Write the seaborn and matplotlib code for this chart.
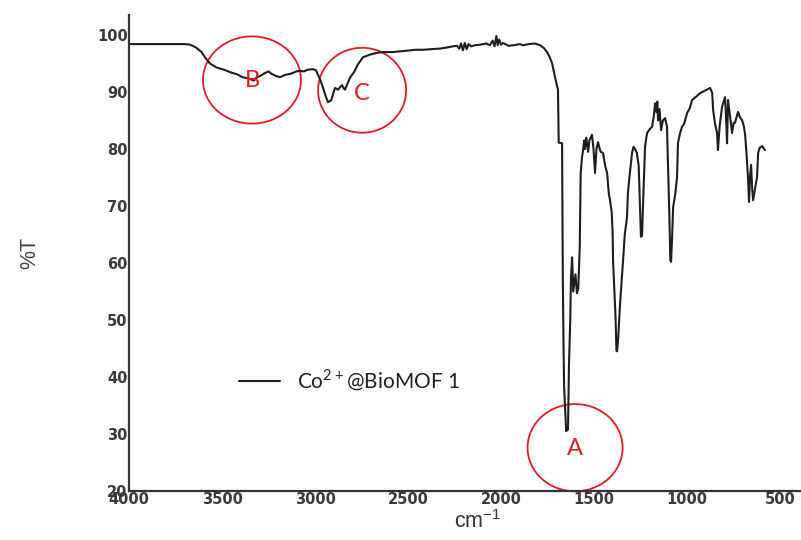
import matplotlib
matplotlib.use("Agg")
import matplotlib.pyplot as plt
from matplotlib.patches import Ellipse
import seaborn as sns

# FTIR spectrum of Co2+@BioMOF 1
wavenumber = [
    4000, 3700, 3672, 3640, 3610, 3590, 3565, 3530, 3490, 3450, 3420, 3390,
    3376, 3350, 3330, 3310, 3290, 3270, 3250, 3235, 3210, 3188, 3160, 3130,
    3100, 3081, 3060, 3040, 3011, 2995, 2984, 2970, 2962, 2950, 2940, 2930,
    2915, 2909, 2900, 2892, 2876, 2866, 2855, 2845, 2839, 2825, 2812, 2790,
    2770, 2742, 2700, 2660, 2634, 2580, 2520, 2460, 2419, 2380, 2330, 2290,
    2260, 2237, 2225, 2215, 2205, 2195, 2185, 2175, 2160, 2140, 2110, 2080,
    2060, 2045, 2035, 2025, 2018, 2010, 2000, 1990, 1960, 1930, 1900, 1882,
    1850, 1820, 1790, 1770, 1753, 1740, 1726, 1710, 1694, 1690, 1672, 1668,
    1664, 1661, 1650, 1640, 1635, 1628, 1624, 1618, 1612, 1600, 1592, 1585,
    1577, 1572, 1565, 1559, 1553, 1549, 1542, 1532, 1525, 1511, 1503, 1495,
    1487, 1479, 1465, 1452, 1440, 1430, 1420, 1414, 1405, 1400, 1398, 1390,
    1384, 1380, 1376, 1370, 1360, 1345, 1335, 1323, 1318, 1310, 1296, 1288,
    1280, 1270, 1260, 1253, 1248, 1242, 1235, 1226, 1215, 1200, 1188, 1178,
    1172, 1165, 1160, 1156, 1148, 1140, 1130, 1118, 1108, 1102, 1095, 1090,
    1086, 1080, 1075, 1064, 1054, 1049, 1040, 1027, 1015, 1000, 985, 973,
    950, 930, 900, 876, 865, 860, 850, 839, 834, 825, 812, 796,
    790, 785, 780, 770, 758, 750, 742, 735, 726, 715, 704, 695,
    688, 680, 672, 667, 662, 656, 650, 645, 635, 624, 618, 610,
    597, 590, 581,
]
transmittance = [
    98.4, 98.4, 98.3, 97.8, 97.0, 96.0, 95.0, 94.3, 93.9, 93.4, 93.1, 92.6,
    92.5, 92.3, 92.0, 92.6, 92.9, 93.3, 93.6, 93.2, 92.8, 92.6, 93.0, 93.2,
    93.6, 93.7, 93.6, 93.9, 94.0, 93.8, 93.0, 92.0, 91.2, 90.0, 89.0, 88.2,
    88.5, 88.9, 90.0, 90.7, 90.4, 90.8, 91.2, 90.6, 90.4, 91.5, 92.5, 93.5,
    94.8, 96.1, 96.6, 96.9, 97.0, 97.0, 97.2, 97.4, 97.4, 97.5, 97.6, 97.8,
    98.0, 98.1, 97.6, 98.5, 97.3, 98.6, 97.5, 98.4, 98.0, 98.2, 98.3, 98.5,
    98.2, 99.0, 98.0, 99.8, 98.2, 99.2, 98.3, 98.6, 98.1, 98.2, 98.4, 98.2,
    98.4, 98.5, 98.2, 97.7, 97.0, 96.2, 95.1, 92.6, 90.4, 81.1, 81.0, 57.5,
    45.0, 38.2, 30.5, 30.8, 42.0, 50.0, 57.5, 61.0, 55.0, 58.0, 54.7, 55.5,
    62.8, 75.8, 78.5, 79.8, 81.5, 80.0, 82.0, 79.5, 81.5, 82.5, 80.0, 75.8,
    80.0, 81.2, 79.5, 79.3, 77.0, 75.8, 72.0, 71.0, 68.8, 65.0, 60.5, 54.7,
    50.0, 44.7, 44.5, 47.0, 53.0, 60.0, 65.0, 68.0, 72.3, 75.0, 79.3, 80.4,
    80.0, 79.3, 77.0, 69.8, 64.6, 64.8, 72.0, 80.4, 82.8, 83.5, 83.9, 86.0,
    88.0, 86.5, 88.3, 85.0, 87.0, 83.3, 85.0, 85.4, 83.9, 76.8, 68.0, 60.5,
    60.2, 65.0, 69.8, 72.0, 75.0, 81.0, 82.5, 83.9, 84.5, 86.3, 87.2, 88.6,
    89.2, 89.8, 90.3, 90.7, 89.8, 86.8, 84.5, 82.8, 79.8, 84.0, 87.4, 89.1,
    85.0, 81.0, 88.6, 86.0, 82.8, 84.6, 84.6, 85.5, 86.5, 85.5, 85.0, 84.0,
    82.5, 79.0, 74.6, 70.7, 75.0, 77.2, 73.0, 71.0, 73.0, 75.0, 79.3, 80.2,
    80.5, 80.2, 79.8,
]

x_ticks = [4000, 3500, 3000, 2500, 2000, 1500, 1000, 500]
y_ticks = [20, 30, 40, 50, 60, 70, 80, 90, 100]

# marked regions (red circles)
region_labels = ["A", "B", "C"]
region_x = [1602, 3339, 2747]
region_y = [27.6, 92.1, 90.3]
region_w = [511, 527, 473]
region_h = [15.3, 15.3, 14.9]
label_y = [27.5, 92.0, 89.8]

sns.set_style("white")
plt.rcParams["font.family"] = ["Liberation Sans", "DejaVu Sans"]
plt.rcParams["mathtext.fontset"] = "custom"
plt.rcParams["mathtext.rm"] = "Lato"

fig = plt.figure(figsize=(8.01, 5.40), dpi=100)
ax = fig.add_axes([129 / 801, 49 / 540, 671 / 801, 476 / 540])

sns.lineplot(x=wavenumber, y=transmittance, ax=ax, sort=False, estimator=None,
             color="#1e1e1e", linewidth=1.5, label="Co$^{2+}$@BioMOF 1")

ax.set_xlim(4000, 393)
ax.set_ylim(20, 103.5)
ax.set_xticks(x_ticks)
ax.set_yticks(y_ticks)
ax.tick_params(length=0, labelsize=10.5, labelcolor="#3a3a3a", pad=1)
for lab in ax.get_xticklabels() + ax.get_yticklabels():
    lab.set_fontfamily("DejaVu Sans")
    lab.set_fontweight("bold")

for s in ["top", "right"]:
    ax.spines[s].set_visible(False)
for s in ["left", "bottom"]:
    ax.spines[s].set_color("#333333")
    ax.spines[s].set_linewidth(1.6)

ax.set_ylabel("%T", fontsize=15.5, color="#444444", labelpad=41)
ax.set_xlabel("cm$^{\\mathregular{-1}}$", fontsize=15.5, color="#333333")
ax.xaxis.set_label_coords(0.52, -0.04)

for lab, cx, cy, w, h, ly in zip(region_labels, region_x, region_y, region_w, region_h, label_y):
    ax.add_patch(Ellipse((cx, cy), w, h, fill=False, edgecolor="#e31b23", linewidth=1.3,
                         clip_on=False))
    ax.text(cx, ly, lab, color="#e31b23", fontsize=17, family="Lato",
            ha="center", va="center")

leg = ax.legend(loc="center left", bbox_to_anchor=(229 / 801, 1 - 380 / 540),
                bbox_transform=fig.transFigure, frameon=False, fontsize=15,
                borderpad=0, handlelength=1.95, handletextpad=0.8)
for t in leg.get_texts():
    t.set_family("Lato")
    t.set_color("#222222")

fig.savefig("out.png", dpi=100)
